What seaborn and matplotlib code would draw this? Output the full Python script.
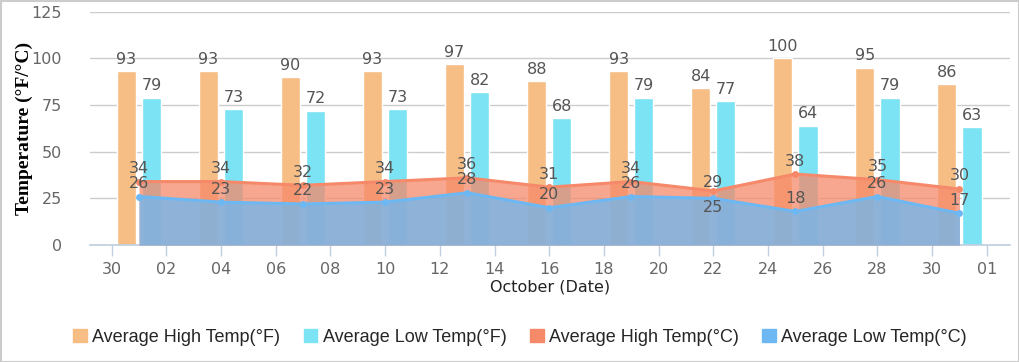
import datetime as dt
import matplotlib
matplotlib.use("Agg")
import matplotlib.pyplot as plt
import matplotlib.dates as mdates
from matplotlib.patches import Patch, Rectangle
import seaborn as sns

# October averages, one reading every three days
dates = [dt.datetime(2023, 10, d) for d in (1, 4, 7, 10, 13, 16, 19, 22, 25, 28, 31)]
high_f = [93, 93, 90, 93, 97, 88, 93, 84, 100, 95, 86]
low_f = [79, 73, 72, 73, 82, 68, 79, 77, 64, 79, 63]
high_c = [34, 34, 32, 34, 36, 31, 34, 29, 38, 35, 30]
low_c = [26, 23, 22, 23, 28, 20, 26, 25, 18, 26, 17]
series_names = ["Average High Temp(°F)", "Average Low Temp(°F)",
                "Average High Temp(°C)", "Average Low Temp(°C)"]

c_high_f, c_low_f = "#F6BD85", "#7BE3F3"
c_high_c, c_low_c = "#F5896A", "#6DB8F2"
label_col = "#555555"

sns.set_theme(style="white")
plt.rcParams["font.family"] = ["DejaVu Sans"]

fig = plt.figure(figsize=(10.2, 3.62), dpi=100)
ax = fig.add_axes([0.088, 0.323, 0.902, 0.645])

xnum = mdates.date2num(dates)
off, w = 0.46, 0.7
b1 = ax.bar(xnum - off, high_f, width=w, color=c_high_f, zorder=2)
b2 = ax.bar(xnum + off, low_f, width=w, color=c_low_f, zorder=2)
for bars in (b1, b2):
    ax.bar_label(bars, padding=3, fontsize=11.5, color=label_col)

# areas (high °C then low °C on top)
ax.fill_between(xnum, high_c, 0, color=c_high_c, alpha=0.75, lw=0, zorder=3)
ax.fill_between(xnum, low_c, 0, color=c_low_c, alpha=0.75, lw=0, zorder=4)
sns.lineplot(x=xnum, y=high_c, ax=ax, color=c_high_c, lw=2.2, marker="o",
             markersize=5, markeredgewidth=0, zorder=5)
sns.lineplot(x=xnum, y=low_c, ax=ax, color=c_low_c, lw=2.2, marker="o",
             markersize=5, markeredgewidth=0, zorder=6)

for x, hi, lo in zip(xnum, high_c, low_c):
    close = hi - lo < 5
    ax.annotate(str(hi), (x, hi), xytext=(0, 1 if close else 4), textcoords="offset points",
                ha="center", va="bottom", fontsize=11.5, color=label_col, zorder=7)
    if close:
        ax.annotate(str(lo), (x, lo), xytext=(0, -1), textcoords="offset points",
                    ha="center", va="top", fontsize=11.5, color=label_col, zorder=7)
    else:
        ax.annotate(str(lo), (x, lo), xytext=(0, 4), textcoords="offset points",
                    ha="center", va="bottom", fontsize=11.5, color=label_col, zorder=7)

# axes
ticks = mdates.drange(dt.datetime(2023, 9, 30), dt.datetime(2023, 11, 2), dt.timedelta(days=2))
ax.set_xticks(ticks)
ax.xaxis.set_major_formatter(mdates.DateFormatter("%d"))
ax.set_xlim(mdates.date2num(dt.datetime(2023, 9, 30)) - 0.8,
            mdates.date2num(dt.datetime(2023, 11, 1)) + 0.84)
ax.set_ylim(0, 125)
ax.set_yticks([0, 25, 50, 75, 100, 125])
ax.grid(axis="y", color="#cccccc", lw=1, zorder=0)
ax.set_axisbelow(True)
for s in ("top", "right", "left"):
    ax.spines[s].set_visible(False)
ax.spines["bottom"].set_color("#C0D0E0")
ax.tick_params(axis="x", bottom=True, length=8, width=1, color="#C0D0E0",
               labelsize=11.5, labelcolor="#666666", pad=4)
ax.tick_params(axis="y", left=False, labelsize=11.5, labelcolor="#666666", pad=14)

ax.set_xlabel("October (Date)", fontsize=11.5, color="#222222", labelpad=2)
ax.set_ylabel("Temperature (°F/°C)", fontsize=14, fontweight="bold",
              family="Liberation Serif", color="#000000")
ax.yaxis.set_label_coords(-0.062, 0.5)

handles = [Patch(color=c) for c in (c_high_f, c_low_f, c_high_c, c_low_c)]
fig.legend(handles, series_names, loc="center", bbox_to_anchor=(0.510, 0.069), ncol=4,
           frameon=False, handlelength=0.75, handleheight=0.75, handletextpad=0.3,
           columnspacing=1.3, prop={"family": "Liberation Sans", "size": 13})

fig.patches.append(Rectangle((0.0005, 0.001), 0.999, 0.997, transform=fig.transFigure,
                             fill=False, edgecolor="#cccccc", lw=1.5))

fig.savefig("out.png", dpi=100)
